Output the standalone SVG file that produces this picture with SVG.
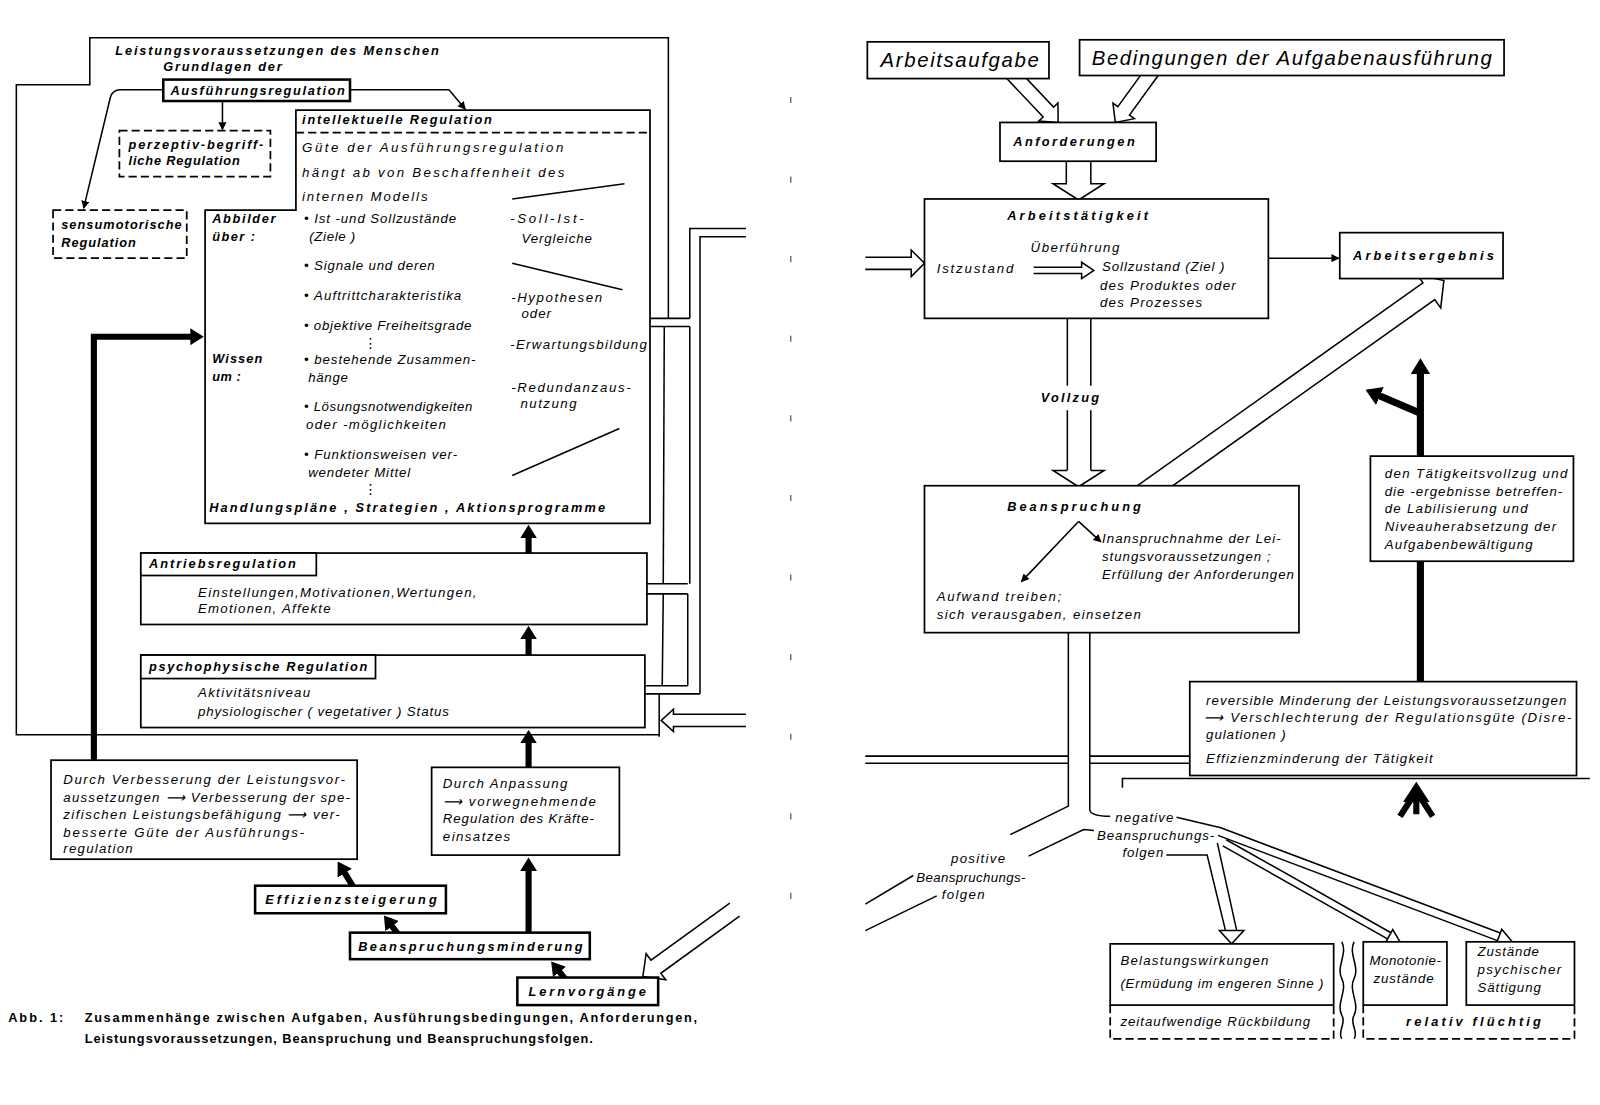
<svg xmlns="http://www.w3.org/2000/svg" width="1600" height="1105" viewBox="0 0 1600 1105">
<style>
text{font-family:"Liberation Sans",Arial,sans-serif;fill:#000}
.t{font-style:italic;font-size:13px}
.b{font-style:italic;font-weight:bold;font-size:12.5px}
.big{font-style:italic;font-size:20px}
.cap{font-weight:bold;font-size:12.5px}
.dots{font-family:"DejaVu Sans",sans-serif;font-size:14px}
.box{fill:#fff;stroke:#000;stroke-width:1.7}
.bx2{fill:#fff;stroke:#000;stroke-width:2.5}
.dash{fill:#fff;stroke:#000;stroke-width:1.7;stroke-dasharray:8 4}
.dl{fill:none;stroke:#000;stroke-width:1.7;stroke-dasharray:8 4}
.ln{fill:none;stroke:#000;stroke-width:1.5}
.hol{fill:#fff;stroke:#000;stroke-width:1.5}
.th{fill:none;stroke:#000;stroke-width:6}
.th7{fill:none;stroke:#000;stroke-width:7}
.sep{stroke:#333;stroke-width:1;stroke-dasharray:6 72}
</style>
<defs>
<marker id="ar" viewBox="0 0 10 10" refX="9" refY="5" markerWidth="8" markerHeight="8" markerUnits="userSpaceOnUse" orient="auto"><path d="M0,0 L10,5 L0,10 z"/></marker>
<marker id="tk" viewBox="0 0 8 10" refX="0.3" refY="5" markerWidth="2.2" markerHeight="2.75" orient="auto"><path d="M0,0 L8,5 L0,10 z"/></marker>
</defs>
<rect width="1600" height="1105" fill="#fff"/>
<g id="diagram" transform="scale(1.0204)">
<line class="sep" x1="775" y1="95" x2="775" y2="945"/>

<g id="connectors">
<polyline class="ln" points="655,312 655,37 88,37 88,83 16,83 16,720 646,720"/>
<polyline class="ln" points="731,224 676,224 676,312"/>
<polyline class="ln" points="731,232 686,232 686,680"/>
<line class="ln" x1="637" y1="312" x2="676" y2="312"/>
<line class="ln" x1="637" y1="320" x2="676" y2="320"/>
<line class="ln" x1="676" y1="320" x2="676" y2="572"/>
<line class="ln" x1="651" y1="320" x2="650" y2="572"/>
<line class="ln" x1="634" y1="572" x2="674" y2="572"/>
<line class="ln" x1="634" y1="582" x2="674" y2="582"/>
<line class="ln" x1="674" y1="582" x2="674" y2="672"/>
<line class="ln" x1="650" y1="582" x2="649" y2="672"/>
<line class="ln" x1="632" y1="672" x2="674" y2="672"/>
<line class="ln" x1="632" y1="680" x2="686" y2="680"/>
<line class="ln" x1="646" y1="680" x2="646" y2="722"/>
<polyline class="hol" points="731,700 660,700 660,695 648,706 660,717 660,712 731,712"/>
<path class="ln" d="M160,88 H118 Q110,88 108,96 L82,204" marker-end="url(#ar)"/>
<path class="ln" d="M218,99 V127" marker-end="url(#ar)"/>
<path class="ln" d="M343,88 H440 L456,107" marker-end="url(#ar)"/>
<path class="th" d="M92,745 V330 H187" marker-end="url(#tk)"/>
<path class="th" d="M518,542 V527" marker-end="url(#tk)"/>
<path class="th" d="M518,642 V626" marker-end="url(#tk)"/>
<path class="th" d="M518,752 V728" marker-end="url(#tk)"/>
<path class="th" d="M518,914 V853" marker-end="url(#tk)"/>
<path class="th" d="M348,872 L337.6,855.2" marker-end="url(#tk)"/>
<path class="th" d="M392,918 L383.9,907.3" marker-end="url(#tk)"/>
<path class="th" d="M556,962 L548.1,952.2" marker-end="url(#tk)"/>
<polyline class="hol" points="715.2,885.1 638,941 633.2,934.6 630,957 652.4,960.2 647.6,953.8 724.8,897.9"/>

<polyline class="hol" points="979.9,69.8 1022.3,114.6 1017.9,118.7 1037,120 1036.8,100.9 1032.5,105 990.1,60.2"/>
<polyline class="hol" points="1129.3,57.9 1095.5,104.6 1090.7,101.1 1093,120 1111.7,116.3 1106.9,112.8 1140.7,66.1"/>
<polyline class="hol" points="1045,150 1045,180 1032,180 1057,196 1082,180 1069,180 1069,150"/>
<polyline class="hol" points="848,252 893,252 893,245 906,258 893,271 893,264 848,264"/>
<polyline class="hol" points="1121.5,495.8 1406.1,293.6 1411.9,301.7 1415,275 1388.7,269.1 1394.5,277.2 1109.9,479.4"/>
<line class="ln" x1="1243" y1="253" x2="1312" y2="253" marker-end="url(#ar)"/>
<line class="ln" x1="1046" y1="312" x2="1046" y2="378"/>
<line class="ln" x1="1046" y1="402" x2="1046" y2="461"/>
<line class="ln" x1="1069" y1="312" x2="1069" y2="378"/>
<line class="ln" x1="1069" y1="402" x2="1069" y2="461"/>
<polyline class="hol" points="1046,461 1032,461 1057,477 1082,461 1069,461"/>
<path class="ln" d="M1047,620 V790 L990,818"/>
<path class="ln" d="M895,858 L848,886"/>
<path class="ln" d="M1008,839 L1062,813 L1072,814"/>
<path class="ln" d="M918,878 L848,912"/>
<path class="ln" d="M1068,620 V794 Q1069,800 1088,800"/>
<path class="ln" d="M1153,801 L1196.4,811.3 L1470.3,914.4"/>
<path class="ln" d="M1193.6,818.7 L1467.5,921.8"/>
<polygon class="hol" points="1466.1,925.6 1482,923 1471.7,910.6"/>
<path class="ln" d="M1198.3,829 L1359.8,920.1"/>
<path class="ln" d="M1201.7,823 L1363.2,914.1"/>
<polygon class="hol" points="1358.1,923.2 1372,923 1364.9,911"/>
<path class="ln" d="M1143,838 H1183 L1201,912"/>
<path class="ln" d="M1193,826 L1212,912"/>
<polygon class="hol" points="1195,912 1219,912 1207,925"/>
<line class="ln" x1="848" y1="741" x2="1047" y2="741"/>
<line class="ln" x1="848" y1="748" x2="1047" y2="748"/>
<line class="ln" x1="1068" y1="741" x2="1166" y2="741"/>
<line class="ln" x1="1068" y1="748" x2="1166" y2="748"/>
<polyline class="ln" points="1100,772 1100,763 1558,763"/>
<path class="th7" d="M1392,668 V366" marker-end="url(#tk)"/>
<path class="th7" d="M1392,405 L1351.8,387.8" marker-end="url(#tk)"/>
<polygon points="1375,786 1388,766 1401,786"/>
<path class="th" d="M1388,783 V798 M1383,783 L1372,800 M1393,783 L1404,800"/>
</g>

<g id="n-title">
<text class="b" x="113" y="54" textLength="317">Leistungsvoraussetzungen des Menschen</text>
<text class="b" x="160" y="70" textLength="116">Grundlagen der</text>
</g>
<g id="n-ausfuehrung">
<rect class="bx2" x="160" y="78" width="183" height="21"/>
<text class="b" x="167" y="93" textLength="171">Ausführungsregulation</text>
</g>
<g id="n-perzeptiv">
<rect class="dash" x="117" y="128" width="148" height="45"/>
<text class="b" x="126" y="146" textLength="132">perzeptiv-begriff-</text>
<text class="b" x="126" y="162" textLength="109">liche Regulation</text>
</g>
<g id="n-sensu">
<rect class="dash" x="52" y="206" width="131" height="47"/>
<text class="b" x="60" y="224" textLength="118">sensumotorische</text>
<text class="b" x="60" y="242" textLength="73">Regulation</text>
</g>
<g id="n-intellektuell">
<polygon class="box" points="290,108 637,108 637,513 201,513 201,206 290,206"/>
<line class="dl" x1="290" y1="130" x2="637" y2="130"/>
<line class="ln" x1="502" y1="195" x2="612" y2="180"/>
<line class="ln" x1="502" y1="258" x2="610" y2="284"/>
<line class="ln" x1="502" y1="466" x2="607" y2="420"/>
<text class="b" x="296" y="122" textLength="186">intellektuelle Regulation</text>
<text class="t" x="296" y="149" textLength="256">Güte der Ausführungsregulation</text>
<text class="t" x="296" y="173" textLength="257">hängt ab von Beschaffenheit des</text>
<text class="t" x="296" y="197" textLength="123">internen Modells</text>
<text class="b" x="208" y="219" textLength="62">Abbilder</text>
<text class="b" x="208" y="236" textLength="42">über :</text>
<text class="t" x="298" y="219" textLength="149">• Ist -und Sollzustände</text>
<text class="t" x="303" y="236" textLength="45">(Ziele )</text>
<text class="t" x="500" y="219" textLength="72">-Soll-Ist-</text>
<text class="t" x="511" y="238" textLength="69">Vergleiche</text>
<text class="t" x="298" y="265" textLength="128">• Signale und deren</text>
<text class="t" x="298" y="294" textLength="154">• Auftrittcharakteristika</text>
<text class="t" x="501" y="296" textLength="89">-Hypothesen</text>
<text class="t" x="511" y="312" textLength="29">oder</text>
<text class="t" x="298" y="323" textLength="164">• objektive Freiheitsgrade</text>
<text class="dots" x="356" y="341">⋮</text>
<text class="t" x="500" y="342" textLength="134">-Erwartungsbildung</text>
<text class="b" x="208" y="356" textLength="49">Wissen</text>
<text class="b" x="208" y="373" textLength="28">um :</text>
<text class="t" x="298" y="357" textLength="168">• bestehende Zusammen-</text>
<text class="t" x="302" y="374" textLength="39">hänge</text>
<text class="t" x="501" y="384" textLength="117">-Redundanzaus-</text>
<text class="t" x="510" y="400" textLength="55">nutzung</text>
<text class="t" x="298" y="403" textLength="165">• Lösungsnotwendigkeiten</text>
<text class="t" x="300" y="420" textLength="137">oder -möglichkeiten</text>
<text class="t" x="298" y="450" textLength="150">• Funktionsweisen ver-</text>
<text class="t" x="302" y="467" textLength="100">wendeter Mittel</text>
<text class="dots" x="356" y="484">⋮</text>
<text class="b" x="205" y="502" textLength="388">Handlungspläne , Strategien , Aktionsprogramme</text>
</g>
<g id="n-antrieb">
<rect class="box" x="138" y="542" width="496" height="70"/>
<rect class="box" x="138" y="542" width="172" height="22"/>
<text class="b" x="146" y="557" textLength="144">Antriebsregulation</text>
<text class="t" x="194" y="585" textLength="273">Einstellungen,Motivationen,Wertungen,</text>
<text class="t" x="194" y="601" textLength="130">Emotionen, Affekte</text>
</g>
<g id="n-psycho">
<rect class="box" x="138" y="642" width="494" height="71"/>
<rect class="box" x="138" y="642" width="230" height="23"/>
<text class="b" x="146" y="658" textLength="214">psychophysische Regulation</text>
<text class="t" x="194" y="683" textLength="110">Aktivitätsniveau</text>
<text class="t" x="194" y="702" textLength="246">physiologischer ( vegetativer ) Status</text>
</g>
<g id="n-verbesserung">
<rect class="box" x="50" y="745" width="300" height="97"/>
<text class="t" x="62" y="768" textLength="276">Durch Verbesserung der Leistungsvor-</text>
<text class="t" x="62" y="786" textLength="281">aussetzungen ⟶ Verbesserung der spe-</text>
<text class="t" x="62" y="803" textLength="271">zifischen Leistungsbefähigung ⟶ ver-</text>
<text class="t" x="62" y="820" textLength="236">besserte Güte der Ausführungs-</text>
<text class="t" x="62" y="836" textLength="68">regulation</text>
</g>
<g id="n-anpassung">
<rect class="box" x="423" y="752" width="184" height="86"/>
<text class="t" x="434" y="772" textLength="122">Durch Anpassung</text>
<text class="t" x="434" y="790" textLength="150">⟶ vorwegnehmende</text>
<text class="t" x="434" y="807" textLength="148">Regulation des Kräfte-</text>
<text class="t" x="434" y="824" textLength="66">einsatzes</text>
</g>
<g id="n-effizienz">
<rect class="bx2" x="250" y="868" width="187" height="27"/>
<text class="b" x="260" y="886" textLength="168">Effizienzsteigerung</text>
</g>
<g id="n-minderung">
<rect class="bx2" x="343" y="914" width="235" height="26"/>
<text class="b" x="351" y="932" textLength="220">Beanspruchungsminderung</text>
</g>
<g id="n-lern">
<rect class="bx2" x="507" y="958" width="138" height="27"/>
<text class="b" x="518" y="976" textLength="115">Lernvorgänge</text>
</g>
<g id="caption">
<text class="cap" x="8" y="1002" textLength="54">Abb. 1:</text>
<text class="cap" x="83" y="1002" textLength="600">Zusammenhänge zwischen Aufgaben, Ausführungsbedingungen, Anforderungen,</text>
<text class="cap" x="83" y="1022" textLength="498">Leistungsvoraussetzungen, Beanspruchung und Beanspruchungsfolgen.</text>
</g>

<g id="n-arbeitsaufgabe">
<rect class="box" x="850" y="41" width="178" height="36"/>
<text class="big" x="863" y="66" textLength="155">Arbeitsaufgabe</text>
</g>
<g id="n-bedingungen">
<rect class="box" x="1058" y="39" width="416" height="35"/>
<text class="big" x="1070" y="64" textLength="392">Bedingungen der Aufgabenausführung</text>
</g>
<g id="n-anforderungen">
<rect class="box" x="980" y="120" width="153" height="38"/>
<text class="b" x="993" y="143" textLength="119">Anforderungen</text>
</g>
<g id="n-taetigkeit">
<rect class="box" x="906" y="195" width="337" height="117"/>
<text class="b" x="987" y="216" textLength="138">Arbeitstätigkeit</text>
<text class="t" x="1010" y="247" textLength="87">Überführung</text>
<text class="t" x="918" y="268" textLength="75">Istzustand</text>
<polyline class="hol" points="1013,262 1060,262 1060,257 1072,265 1060,273 1060,268 1013,268"/>
<text class="t" x="1080" y="266" textLength="120">Sollzustand (Ziel )</text>
<text class="t" x="1078" y="284" textLength="133">des Produktes oder</text>
<text class="t" x="1078" y="301" textLength="100">des Prozesses</text>
</g>
<g id="n-ergebnis">
<rect class="box" x="1313" y="228" width="160" height="45"/>
<text class="b" x="1326" y="255" textLength="138">Arbeitsergebnis</text>
</g>
<g id="l-vollzug">
<text class="b" x="1020" y="394" textLength="57">Vollzug</text>
</g>
<g id="n-beanspruchung">
<rect class="box" x="906" y="476" width="367" height="144"/>
<text class="b" x="987" y="501" textLength="131">Beanspruchung</text>
<line class="ln" x1="1057" y1="511" x2="1079" y2="531" marker-end="url(#ar)"/>
<line class="ln" x1="1057" y1="511" x2="1001" y2="570" marker-end="url(#ar)"/>
<text class="t" x="1080" y="532" textLength="175">Inanspruchnahme der Lei-</text>
<text class="t" x="1080" y="550" textLength="165">stungsvoraussetzungen ;</text>
<text class="t" x="1080" y="567" textLength="188">Erfüllung der Anforderungen</text>
<text class="t" x="918" y="589" textLength="122">Aufwand treiben;</text>
<text class="t" x="918" y="607" textLength="200">sich verausgaben, einsetzen</text>
</g>
<g id="n-labilisierung">
<rect class="box" x="1343" y="447" width="199" height="103"/>
<text class="t" x="1357" y="468" textLength="179">den Tätigkeitsvollzug und</text>
<text class="t" x="1357" y="486" textLength="174">die -ergebnisse betreffen-</text>
<text class="t" x="1357" y="503" textLength="140">de Labilisierung und</text>
<text class="t" x="1357" y="520" textLength="168">Niveauherabsetzung der</text>
<text class="t" x="1357" y="538" textLength="145">Aufgabenbewältigung</text>
</g>
<g id="n-reversibel">
<rect class="box" x="1166" y="668" width="379" height="92"/>
<text class="t" x="1182" y="691" textLength="353">reversible Minderung der Leistungsvoraussetzungen</text>
<text class="t" x="1180" y="708" textLength="360">⟶ Verschlechterung der Regulationsgüte (Disre-</text>
<text class="t" x="1182" y="724" textLength="78">gulationen )</text>
<text class="t" x="1182" y="748" textLength="222">Effizienzminderung der Tätigkeit</text>
</g>
<g id="l-folgen">
<text class="t" x="1093" y="806" textLength="57">negative</text>
<text class="t" x="1075" y="823" textLength="115">Beanspruchungs-</text>
<text class="t" x="1100" y="840" textLength="40">folgen</text>
<text class="t" x="932" y="846" textLength="53">positive</text>
<text class="t" x="898" y="864" textLength="107">Beanspruchungs-</text>
<text class="t" x="923" y="881" textLength="42">folgen</text>
</g>
<g id="n-belastung">
<rect class="box" x="1088" y="925" width="219" height="60"/>
<path class="dl" d="M1088,985 V1018 H1307 V985"/>
<text class="t" x="1098" y="946" textLength="145">Belastungswirkungen</text>
<text class="t" x="1098" y="968" textLength="199">(Ermüdung im engeren Sinne )</text>
<text class="t" x="1098" y="1005" textLength="186">zeitaufwendige Rückbildung</text>
</g>
<g id="braces">
<path class="ln" d="M1315,923 c6,12 -6,24 0,36 c6,12 -6,24 0,36 c5,8 -5,16 0,23"/>
<path class="ln" d="M1327,923 c-6,12 6,24 0,36 c-6,12 6,24 0,36 c-5,8 5,16 0,23"/>
</g>
<g id="n-monotonie">
<rect class="box" x="1336" y="923" width="82" height="62"/>
<text class="t" x="1342" y="946" textLength="70">Monotonie-</text>
<text class="t" x="1346" y="963" textLength="59">zustände</text>
</g>
<g id="n-saettigung">
<rect class="box" x="1437" y="923" width="106" height="62"/>
<text class="t" x="1448" y="937" textLength="60">Zustände</text>
<text class="t" x="1448" y="955" textLength="82">psychischer</text>
<text class="t" x="1448" y="972" textLength="62">Sättigung</text>
</g>
<g id="n-fluechtig">
<path class="dl" d="M1336,985 V1018 H1543 V985"/>
<text class="b" x="1378" y="1005" textLength="132">relativ flüchtig</text>
</g>
</g>
</svg>
